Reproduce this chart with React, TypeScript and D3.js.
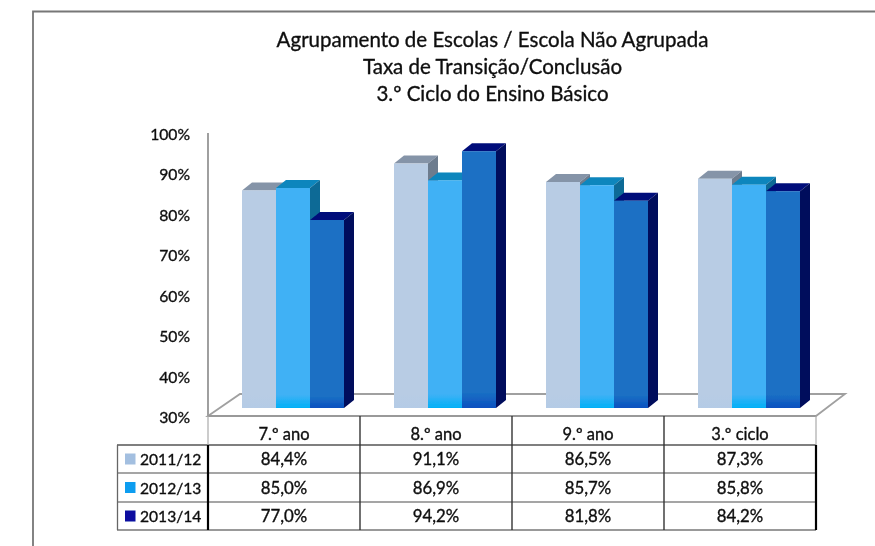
import React from "react";
import * as d3 from "d3";

const categories = ["7.º ano", "8.º ano", "9.º ano", "3.º ciclo"];
const seriesNames = ["2011/12", "2012/13", "2013/14"];
const values2011 = [84.4, 91.1, 86.5, 87.3];
const values2012 = [85.0, 86.9, 85.7, 85.8];
const values2013 = [77.0, 94.2, 81.8, 84.2];
const allValues = [values2011, values2012, values2013];
const ticks = [30, 40, 50, 60, 70, 80, 90, 100];
const titleLines = [
  "Agrupamento de Escolas / Escola Não Agrupada",
  "Taxa de Transição/Conclusão",
  "3.º Ciclo do Ensino Básico",
];
const frontColors = ["#b8cce4", "#3fb1f5", "#1a6fc4"];
const frontBottom = ["#b4cbe6", "#00b0f7", "#0a50c0"];
const topColors = ["#8594a8", "#0a86bd", "#00107a"];
const sideColors = ["#6d7b8e", "#0d6a96", "#00085c"];
const legendColors = ["#a3bfe0", "#0f9df0", "#0a0fa0"];

const FONT = "Lato, 'Open Sans', sans-serif";
const W = 875, H = 546;
const DX = 10, DY = 8;
const axisX = 208, tableRight = 816;
const floorFront = 416, floorBack = 394;
const rowLines = [445, 473, 502, 530];

export default function App() {
  const x = d3.scaleBand<string>().domain(categories).range([axisX, tableRight]);
  const inner = d3.scaleBand<string>().domain(seriesNames).range([34, 136]);
  const yBar = d3.scaleLinear().domain([30, 100]).range([408, 128]);
  const yAxis = d3.scaleLinear().domain([30, 100]).range([416, 133]);
  const fmt = (v: number) => v.toFixed(1).replace(".", ",") + "%";
  const step = x.bandwidth();
  const textStyle = { stroke: "#111", strokeWidth: 0.35 };
  return (
    <svg width={W} height={H} style={{ position: "absolute", left: 0, top: 0 }} fontFamily={FONT}>
      <defs>
        <filter id="soft" x="-5%" y="-5%" width="110%" height="110%">
          <feGaussianBlur stdDeviation="0.65" />
        </filter>
        {frontColors.map((c, i) => (
          <linearGradient key={i} id={`g${i}`} x1="0" y1="0" x2="0" y2="1">
            <stop offset="0.94" stopColor={c} />
            <stop offset="1" stopColor={frontBottom[i]} />
          </linearGradient>
        ))}
      </defs>
      <rect width={W} height={H} fill="#fff" />
      <g filter="url(#soft)">
        <path d="M33,546V11.5H875" fill="none" stroke="#777" strokeWidth={1.8} />
        {titleLines.map((t, i) => (
          <text key={t} x={492.5} y={47 + i * 27} textAnchor="middle" fontSize={20.5} fill="#111" style={textStyle}>{t}</text>
        ))}
        {ticks.map((t) => (
          <text key={t} x={190} y={yAxis(t) + 7} textAnchor="end" fontSize={15.7} fill="#111" style={textStyle}>{t}%</text>
        ))}
        <path d={`M${axisX},${yAxis(100)}V${floorFront}`} stroke="#888" strokeWidth={1.6} fill="none" />
        <path
          d={`M${axisX},${floorFront}L${axisX + 32},${floorBack}H${tableRight + 29}L${tableRight},${floorFront}Z`}
          fill="#fff" stroke="#a0a0a0" strokeWidth={1.8}
        />
        {categories.map((c, ci) =>
          seriesNames.map((s, si) => {
            const v = allValues[si][ci];
            const left = x(c)! + inner(s)!;
            const w = inner.bandwidth();
            const top = yBar(v), base = yBar(30);
            return (
              <g key={c + s}>
                <path d={`M${left},${top}l${DX},${-DY}h${w}l${-DX},${DY}Z`} fill={topColors[si]} />
                <path d={`M${left + w},${top}l${DX},${-DY}V${base - DY}l${-DX},${DY}Z`} fill={sideColors[si]} />
                <rect x={left} y={top} width={w} height={base - top} fill={`url(#g${si})`} />
              </g>
            );
          })
        )}
        <path d={`M${axisX},${floorFront}H${tableRight}`} stroke="#999" strokeWidth={1.8} fill="none" />
        <path d={`M117,${rowLines[0]}H${tableRight}`} stroke="#555" strokeWidth={1.4} fill="none" />
        <path d={`M117,${rowLines[1]}H${tableRight}M117,${rowLines[2]}H${tableRight}`} stroke="#888" strokeWidth={1.4} fill="none" />
        <path d={`M117,${rowLines[3]}H${tableRight}`} stroke="#777" strokeWidth={1.4} fill="none" />
        <path d={`M117.5,${rowLines[0]}V${rowLines[3]}`} stroke="#666" strokeWidth={1.3} fill="none" />
        <path d={`M${axisX},${floorFront}V${rowLines[0]}`} stroke="#aaa" strokeWidth={1.2} fill="none" />
        <path d={`M${tableRight},${floorFront}V${rowLines[0]}`} stroke="#aaa" strokeWidth={1.2} fill="none" />
        <path d={`M${axisX},${rowLines[0]}V${rowLines[3]}`} stroke="#000" strokeWidth={2.2} fill="none" />
        <path d={`M${tableRight},${rowLines[0]}V${rowLines[3]}`} stroke="#000" strokeWidth={2.2} fill="none" />
        {categories.slice(1).map((c) => (
          <path key={c} d={`M${x(c)},${floorFront}V${rowLines[3]}`} stroke="#333" strokeWidth={1.4} fill="none" />
        ))}
        {categories.map((c) => (
          <text key={c} x={x(c)! + step / 2} y={440} textAnchor="middle" fontSize={16.5} fill="#111" style={textStyle}>{c}</text>
        ))}
        {seriesNames.map((s, si) => {
          const cy = (rowLines[si] + rowLines[si + 1]) / 2;
          return (
            <g key={s}>
              <rect x={125} y={cy - 5.5} width={10.5} height={11} fill={legendColors[si]} />
              <text x={140} y={cy + 6} fontSize={15.6} fill="#111" style={textStyle}>{s}</text>
              {categories.map((c, ci) => (
                <text key={c} x={x(c)! + step / 2} y={cy + 6} textAnchor="middle" fontSize={16.8} fill="#111" style={textStyle}>
                  {fmt(allValues[si][ci])}
                </text>
              ))}
            </g>
          );
        })}
      </g>
    </svg>
  );
}
